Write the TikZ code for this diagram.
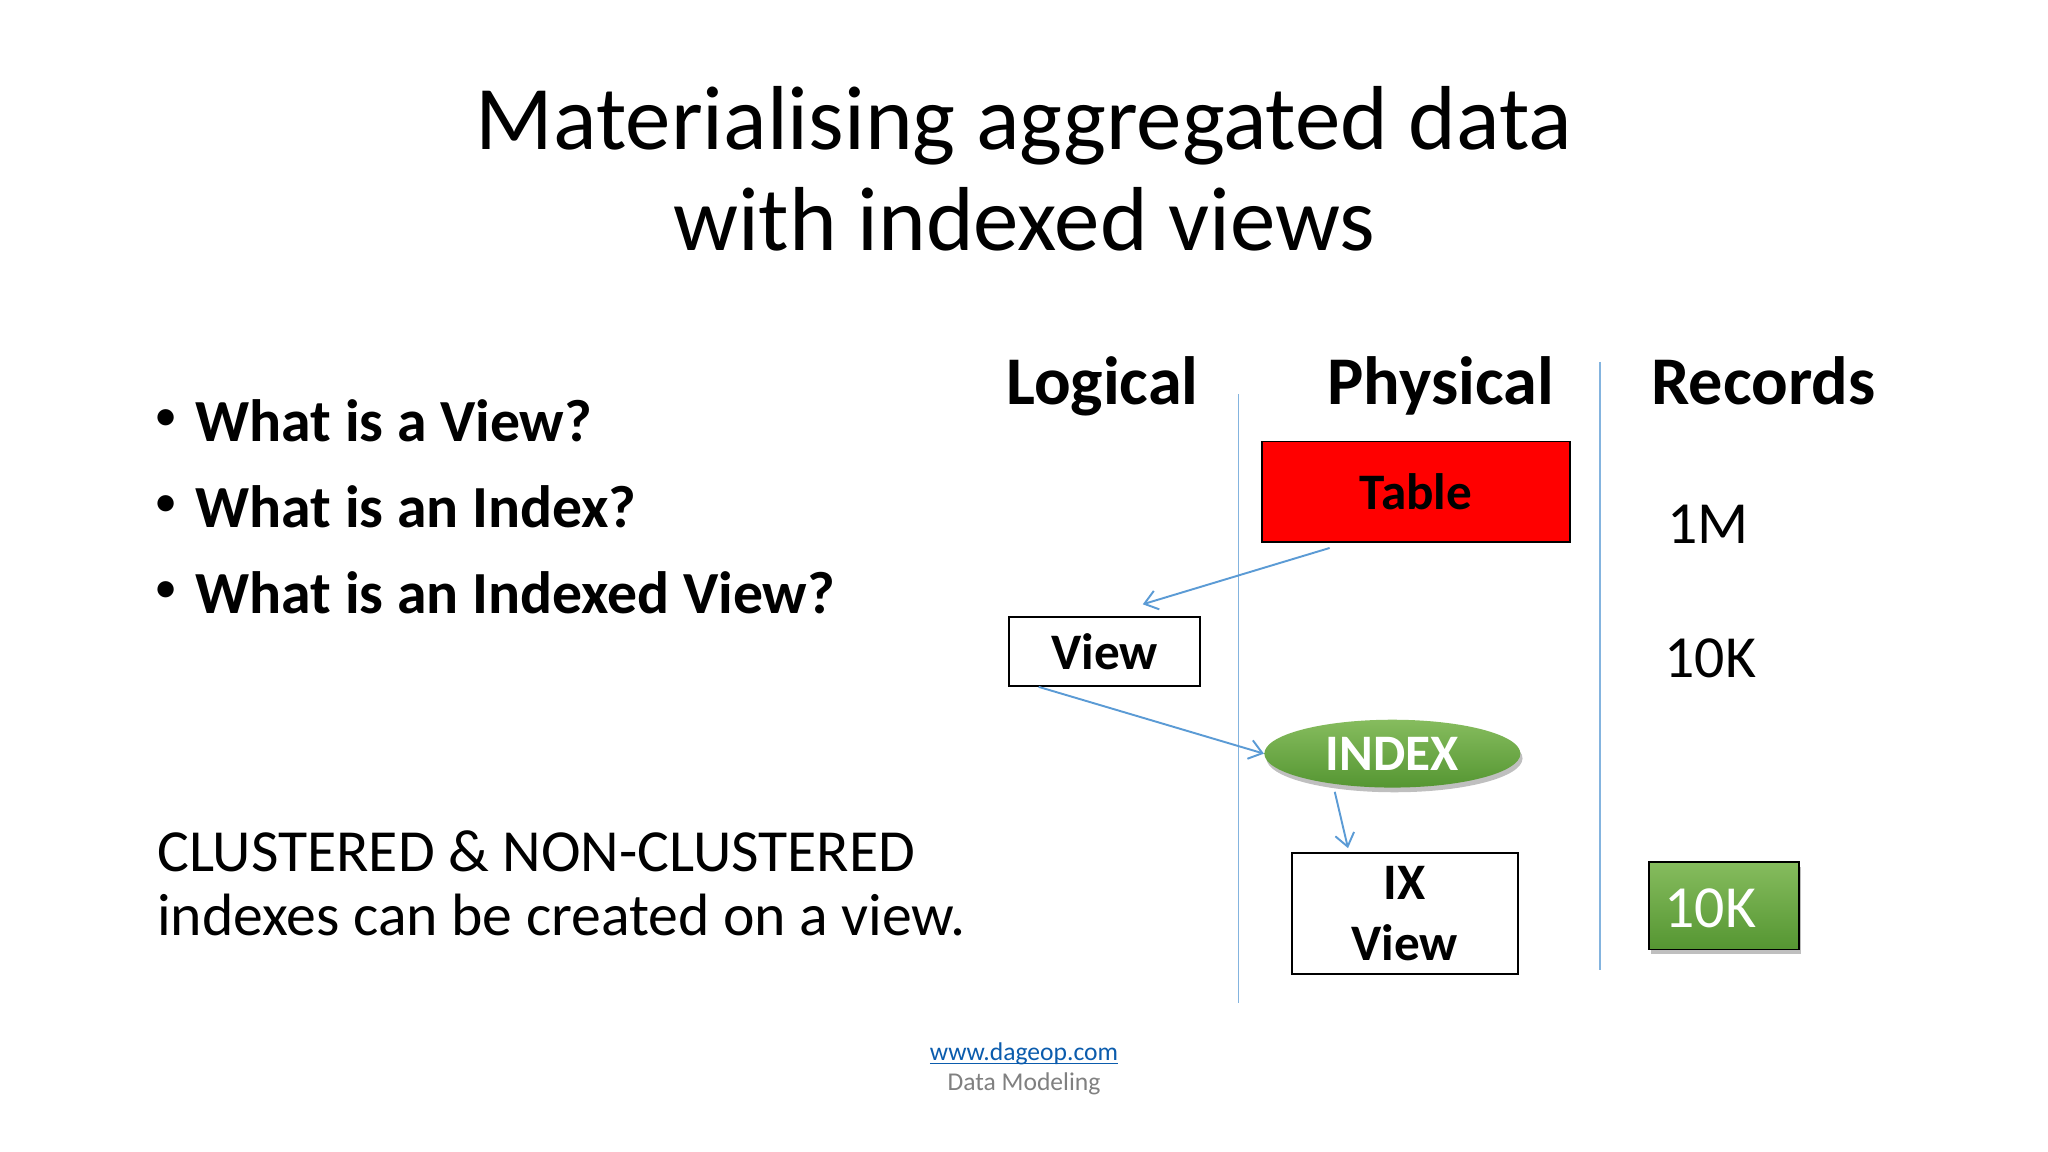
\documentclass[tikz,border=0pt]{standalone}
\usepackage{fontspec}
\setmainfont{Carlito}
\usetikzlibrary{positioning}
\usetikzlibrary{shapes.geometric}
\usetikzlibrary{shadows}
\usetikzlibrary{arrows.meta}
\definecolor{linkblue}{HTML}{0B5CAD}
\definecolor{ruleblue}{HTML}{5B9BD5}
\definecolor{greentop}{HTML}{86BC5E}
\definecolor{greenbot}{HTML}{559632}
\newcommand{\linkline}[1]{\setbox0\hbox{#1}\rlap{\rule[-1.6pt]{\wd0}{0.5pt}}\box0}
\tikzset{
    box/.style={
           rectangle,
           draw=black, thick,
           inner sep=2pt,
           text centered,
           font=\fontsize{24}{28}\selectfont\bfseries,
           },
    greenfill/.style={
           top color=greentop, bottom color=greenbot,
           drop shadow={shadow xshift=1pt, shadow yshift=-2.2pt, fill=black!50},
           },
    heading/.style={font=\fontsize{32}{36}\selectfont\bfseries, anchor=base, inner sep=0pt},
    point/.style={font=\fontsize{28}{32}\selectfont\bfseries, anchor=base west, inner sep=0pt},
    dot/.style={font=\fontsize{18}{20}\selectfont\bfseries, anchor=base west, inner sep=0pt},
    plain/.style={font=\fontsize{28}{30}\selectfont, anchor=base west, inner sep=0pt},
    rule/.style={draw=ruleblue!75, line width=0.6pt},
    link/.style={draw=ruleblue, line width=0.9pt, -{Straight Barb[length=6pt,width=9pt]}},
}
\begin{document}
\begin{tikzpicture}[x=0.6122pt,y=-0.6122pt]
      \useasboundingbox[fill=white] (0,0) rectangle (1568,882);
      % title
      \node (title) at (784,129) [align=center, font=\fontsize{42.6}{47.5}\selectfont] {Materialising aggregated data\\with indexed views};
      % bullets
      \node[dot] (dot_1) at (119.5,328) {•};
      \node[point] (bul_1) at (149.5,338) {What is a View?};
      \node[dot] (dot_2) at (119.5,394) {•};
      \node[point] (bul_2) at (149.5,404) {What is an Index?};
      \node[dot] (dot_3) at (119.5,460) {•};
      \node[point] (bul_3) at (149.5,470) {What is an Indexed View?};
      \node[plain] (note_1) at (120,667) {CLUSTERED \& NON-CLUSTERED};
      \node[plain] (note_2) at (120,716) {indexes can be created on a view.};
      % column heads
      \node[heading] (logical)  at (844,309.5)  {Logical};
      \node[heading] (physical) at (1103,309.5) {Physical};
      \node[heading] (records)  at (1350,309.5) {Records};
      \coordinate (rule_1a) at (948,302);
      \coordinate (rule_1b) at (948,768);
      \coordinate (rule_2a) at (1225,277);
      \coordinate (rule_2b) at (1225,743);
      \draw[rule] (rule_1a) -- (rule_1b);
      \draw[rule] (rule_2a) -- (rule_2b);
      % boxes
      \node[box, fill=red, minimum width=144.5pt, minimum height=47.1pt] (table) at (1084,376.5) {Table};
      \node[box, minimum width=89.3pt, minimum height=32.4pt] (view) [below left=34.3pt and 28.2pt of table] {View};
      \node[ellipse, greenfill, text=white, minimum width=120pt, minimum height=31.8pt, inner sep=0pt,
            font=\fontsize{24}{28}\selectfont\bfseries] (index) [below=82.7pt of table, xshift=-11pt] {\raisebox{-0.6pt}{INDEX}};
      \node[box, align=center, minimum width=105.9pt, minimum height=56.9pt, font=\fontsize{24}{28.5}\selectfont\bfseries] (ixview) [below=30pt of index, xshift=5.8pt] {\raisebox{-0.8pt}{IX}\\\raisebox{-0.8pt}{View}};
      \node[box, greenfill, minimum width=70.4pt, minimum height=41pt] (count) [right=60.6pt of ixview, yshift=3.7pt] {};
      % record counts
      \node[plain] (rec_1) at (1276.5,416) {1M};
      \node[plain] (rec_2) at (1274,519) {10K};
      \node[plain, text=white] (rec_3) at (1274,710) {10K};
      % arrows
      \draw[link] ([xshift=-40.4pt,yshift=-2.4pt]table.south) -- ([xshift=17.9pt,yshift=5.5pt]view.north);
      \draw[link] ([xshift=-30.9pt]view.south) -- (index.west);
      \draw[link] ([xshift=-27pt,yshift=-1.8pt]index.south) -- ([xshift=-26.6pt,yshift=1.8pt]ixview.north);
      % footer
      \node (site) at (784,812) [anchor=base, inner sep=0pt, font=\fontsize{12}{13}\selectfont, text=linkblue] {\linkline{www.dageop.com}};
      \node (topic) at (784,835) [anchor=base, inner sep=0pt, font=\fontsize{12}{13}\selectfont, text=black!50] {Data Modeling};
\end{tikzpicture}
\end{document}
